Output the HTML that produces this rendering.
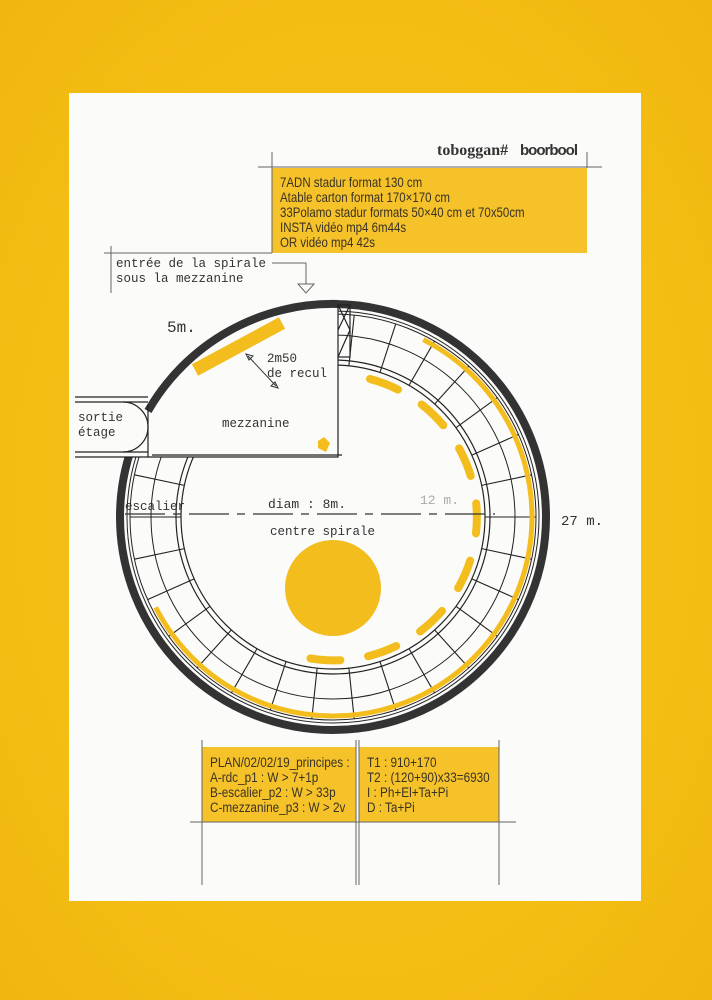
<!DOCTYPE html>
<html><head><meta charset="utf-8">
<style>
html,body{margin:0;padding:0}
body{width:712px;height:1000px;background:radial-gradient(ellipse at center,#f7c520 0%,#f4bd12 70%,#f0b70e 100%);position:relative;overflow:hidden}
svg{position:absolute;left:0;top:0}
.m{font-family:"Liberation Mono",monospace;fill:#333}
.s{font-family:"Liberation Sans",sans-serif;fill:#3a3324}
</style></head><body>
<svg width="712" height="1000" viewBox="0 0 712 1000">
<rect x="69" y="93" width="572" height="808" fill="#fbfbfa"/>
<!-- top box -->
<rect x="272" y="168" width="315" height="85" fill="#f6c22a"/>
<g stroke="#666" stroke-width="1" fill="none">
<line x1="258" y1="167" x2="602" y2="167"/>
<line x1="272" y1="152" x2="272" y2="253"/>
<line x1="587" y1="152" x2="587" y2="168"/>
<line x1="104" y1="253" x2="272" y2="253"/>
<line x1="111" y1="246" x2="111" y2="293"/>
<polyline points="272,263 306,263 306,284"/>
<polygon points="298,284 314,284 306,293"/>
</g>
<g transform="translate(280,0) scale(0.82,1)">
<text class="s" font-size="14" x="0" y="187">7ADN stadur format 130 cm</text>
<text class="s" font-size="14" x="0" y="202">Atable carton format 170×170 cm</text>
<text class="s" font-size="14" x="0" y="217">33Polamo stadur formats 50×40 cm et 70x50cm</text>
<text class="s" font-size="14" x="0" y="232">INSTA vidéo mp4 6m44s</text>
<text class="s" font-size="14" x="0" y="247">OR vidéo mp4 42s</text>
</g>
<text x="437" y="155" font-family="Liberation Serif,serif" font-weight="bold" font-size="16" fill="#333">toboggan#</text>
<text x="520" y="155" font-family="Liberation Sans,sans-serif" font-weight="bold" font-size="15" fill="#333" letter-spacing="-1">boorbool</text>
<text class="m" font-size="12.5" x="116" y="267">entrée de la spirale</text>
<text class="m" font-size="12.5" x="116" y="282">sous la mezzanine</text>

<!-- ring -->
<g transform="translate(333,517)" fill="none" stroke="#222">
<circle r="213" stroke="#333" stroke-width="8"/>
<circle r="206" stroke-width="1"/>
<circle r="203" stroke-width="1"/>
<circle r="182" stroke-width="1"/>
<circle r="157" stroke-width="1.2"/>
<circle r="152" stroke-width="1.2"/>
<g stroke-width="1.1">
<line x1="152" x2="203" transform="rotate(-84)"/><line x1="152" x2="203" transform="rotate(-72)"/>
<line x1="152" x2="203" transform="rotate(-60)"/><line x1="152" x2="203" transform="rotate(-48)"/>
<line x1="152" x2="203" transform="rotate(-36)"/><line x1="152" x2="203" transform="rotate(-24)"/>
<line x1="152" x2="203" transform="rotate(-12)"/><line x1="152" x2="203" transform="rotate(0)"/>
<line x1="152" x2="203" transform="rotate(12)"/><line x1="152" x2="203" transform="rotate(24)"/>
<line x1="152" x2="203" transform="rotate(36)"/><line x1="152" x2="203" transform="rotate(48)"/>
<line x1="152" x2="203" transform="rotate(60)"/><line x1="152" x2="203" transform="rotate(72)"/>
<line x1="152" x2="203" transform="rotate(84)"/><line x1="152" x2="203" transform="rotate(96)"/>
<line x1="152" x2="203" transform="rotate(108)"/><line x1="152" x2="203" transform="rotate(120)"/>
<line x1="152" x2="203" transform="rotate(132)"/><line x1="152" x2="203" transform="rotate(144)"/>
<line x1="152" x2="203" transform="rotate(156)"/><line x1="152" x2="203" transform="rotate(168)"/>
<line x1="152" x2="203" transform="rotate(180)"/><line x1="152" x2="203" transform="rotate(192)"/>
</g>
<circle r="199" stroke="#f3bd1e" stroke-width="5" pathLength="360" stroke-dasharray="216 144" stroke-dashoffset="63"/>
</g>
<!-- inner dashes -->
<path d="M370,379 A143,143 0 0 1 308,658" fill="none" stroke="#f3bd1e" stroke-width="8" stroke-linecap="round" stroke-dasharray="30 28"/>
<!-- mezzanine -->
<rect x="80" y="295" width="258" height="162" fill="#fbfbfa"/>
<rect x="119" y="397" width="30" height="60" fill="#fbfbfa"/>
<path d="M148,411 A213,213 0 0 1 338,304" fill="none" stroke="#333" stroke-width="8"/>
<g fill="none" stroke="#222" stroke-width="1.2">
<polyline points="148,405 148,457 338,457 338,357"/>
<polyline points="152,455 342,455"/>
<line x1="75" y1="397" x2="148" y2="397"/>
<line x1="75" y1="402" x2="148" y2="402"/>
<line x1="75" y1="452" x2="148" y2="452"/>
<line x1="75" y1="457" x2="148" y2="457"/>
<path d="M123,402 A25,25 0 0 1 148,427 M123,452 A25,25 0 0 0 148,427"/>
<rect x="338" y="305" width="12" height="52"/>
<path d="M338,305 L350,330 L338,357 M350,305 L338,330"/>
</g>
<line x1="195" y1="370" x2="282" y2="323" stroke="#f3bd1e" stroke-width="13"/>
<polygon points="318,441 324,437 330,443 326,452 318,448" fill="#f3bd1e"/>
<g stroke="#333" stroke-width="1" fill="none">
<line x1="248" y1="356" x2="276" y2="386"/>
<polygon points="246,354 253,356 249,360"/><polygon points="278,388 271,386 275,382"/>
</g>
<circle cx="333" cy="588" r="48" fill="#f3bd1e"/>
<line x1="125" y1="514" x2="495" y2="514" stroke="#333" stroke-width="1.3" stroke-dasharray="40 8 8 8"/>
<text class="m" font-size="16" x="167" y="332">5m.</text>
<text class="m" font-size="12.5" x="267" y="362">2m50</text>
<text class="m" font-size="12.5" x="267" y="377">de recul</text>
<text class="m" font-size="12.5" x="222" y="427">mezzanine</text>
<text class="m" font-size="12.5" x="78" y="421">sortie</text>
<text class="m" font-size="12.5" x="78" y="436">étage</text>
<text class="m" font-size="12.5" x="125" y="510">escalier</text>
<text class="m" font-size="13" x="268" y="508">diam : 8m.</text>
<text class="m" font-size="13" x="420" y="504" style="fill:#aaa">12 m.</text>
<text class="m" font-size="14" x="561" y="525">27 m.</text>
<text class="m" font-size="12.5" x="270" y="535">centre spirale</text>
<!-- bottom boxes -->
<rect x="202" y="747" width="154" height="75" fill="#f6c22a"/>
<rect x="359" y="747" width="140" height="75" fill="#f6c22a"/>
<g stroke="#666" stroke-width="1">
<line x1="190" y1="822" x2="516" y2="822"/>
<line x1="202" y1="740" x2="202" y2="885"/>
<line x1="356" y1="740" x2="356" y2="885"/>
<line x1="359" y1="740" x2="359" y2="885"/>
<line x1="499" y1="740" x2="499" y2="885"/>
</g>
<g transform="translate(210,0) scale(0.84,1)">
<text class="s" font-size="14" x="0" y="767">PLAN/02/02/19_principes :</text>
<text class="s" font-size="14" x="0" y="782">A-rdc_p1 : W &gt; 7+1p</text>
<text class="s" font-size="14" x="0" y="797">B-escalier_p2 : W &gt; 33p</text>
<text class="s" font-size="14" x="0" y="812">C-mezzanine_p3 : W &gt; 2v</text>
</g>
<g transform="translate(367,0) scale(0.84,1)">
<text class="s" font-size="14" x="0" y="767">T1 : 910+170</text>
<text class="s" font-size="14" x="0" y="782">T2 : (120+90)x33=6930</text>
<text class="s" font-size="14" x="0" y="797">I : Ph+El+Ta+Pi</text>
<text class="s" font-size="14" x="0" y="812">D : Ta+Pi</text>
</g>
</svg>
</body></html>
